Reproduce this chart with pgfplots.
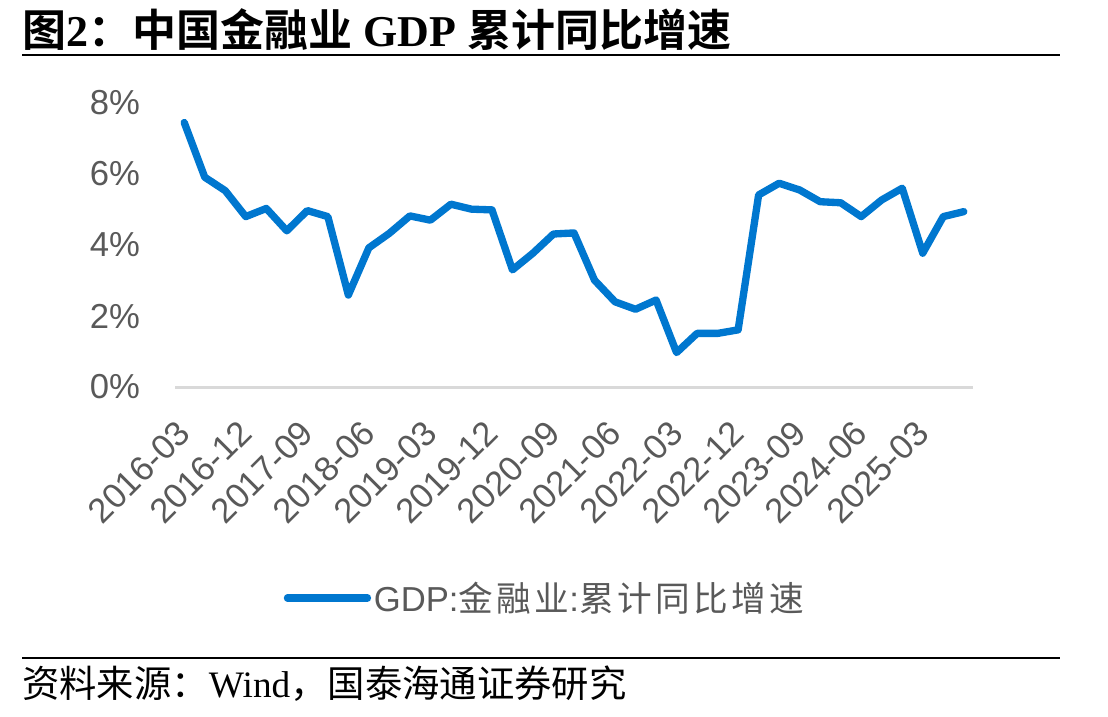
\documentclass[border=0pt]{standalone}
\usepackage{pgfplots}
\pgfplotsset{compat=1.18}
\usepackage{fontspec}
\setmainfont{Liberation Serif}
\setsansfont{Liberation Sans}
\newfontfamily\cjk{Noto Sans CJK SC}[BoldFont={Noto Sans CJK SC Bold}]
\newfontfamily\cjkl{Noto Sans CJK SC}[LetterSpace=10]
\definecolor{lineblue}{HTML}{0077CF}
\definecolor{tickgray}{HTML}{595959}
\definecolor{gridgray}{HTML}{D9D9D9}

\pgfplotstableread{
x y
0 7.45
1 5.91
2 5.53
3 4.80
4 5.03
5 4.40
6 4.97
7 4.80
8 2.59
9 3.92
10 4.33
11 4.82
12 4.70
13 5.15
14 5.01
15 4.99
16 3.30
17 3.77
18 4.31
19 4.34
20 3.01
21 2.40
22 2.19
23 2.45
24 0.97
25 1.51
26 1.51
27 1.61
28 5.41
29 5.74
30 5.55
31 5.22
32 5.19
33 4.80
34 5.27
35 5.60
36 3.77
37 4.80
38 4.94
}\gdpdata

\begin{document}
\begin{tikzpicture}
\path[use as bounding box] (0,0) rectangle (831pt,-537.75pt);
\begin{scope}[x=0.75pt,y=-0.75pt]
\node[anchor=base west, inner sep=0pt, font=\fontsize{33}{36}\selectfont\bfseries] at (22,47) {{\cjk 图}2{\cjk ：中国金融业} GDP {\cjk 累计同比增速}};
\draw[line width=1.5pt] (22,55) -- (1060,55);
\draw[line width=1.5pt] (22,658) -- (1060,658);
\node[anchor=base west, inner sep=0pt, font=\fontsize{28}{30}\selectfont] at (22,697) {{\cjk 资料来源：}Wind{\cjk ，国泰海通证券研究}};
\end{scope}
\begin{axis}[
  at={(131.25pt,-290.25pt)}, anchor=south west,
  width=598.5pt, height=213pt, scale only axis,
  xmin=-0.45, xmax=38.45, ymin=0, ymax=8,
  axis x line*=bottom, axis y line*=left,
  x axis line style={-, gridgray, line width=2.25pt},
  y axis line style={draw=none},
  major tick length=0pt,
  xtick={0,3,...,36},
  xticklabels={2016-03,2016-12,2017-09,2018-06,2019-03,2019-12,2020-09,2021-06,2022-03,2022-12,2023-09,2024-06,2025-03},
  ytick={0,2,4,6,8},
  yticklabel={\pgfmathprintnumber{\tick}\%},
  /pgf/number format/assume math mode=true,
  tick label style={font=\fontsize{26}{28}\selectfont\sffamily, text=tickgray},
  yticklabel style={anchor=east, inner sep=0pt, xshift=-26pt},
  xticklabel style={yshift=-30pt, rotate=45, anchor=east, inner sep=0pt},
  legend style={at={(axis description cs:0.136,-0.743)}, anchor=west, draw=none, fill=none, inner sep=0pt,
    font=\fontsize{26}{28}\selectfont\sffamily, text=tickgray,
    /tikz/every even column/.append style={column sep=0pt}},
  legend image code/.code={\draw[#1, line cap=round] (0pt,0pt) -- (60pt,0pt);},
  clip=false,
]
\addplot[lineblue, line width=5.5pt, line join=round, line cap=round] table[x=x,y=y] {\gdpdata};
\addlegendentry{GDP:{\cjkl 金融业}:{\cjkl 累计同比增速}}
\end{axis}
\end{tikzpicture}
\end{document}
